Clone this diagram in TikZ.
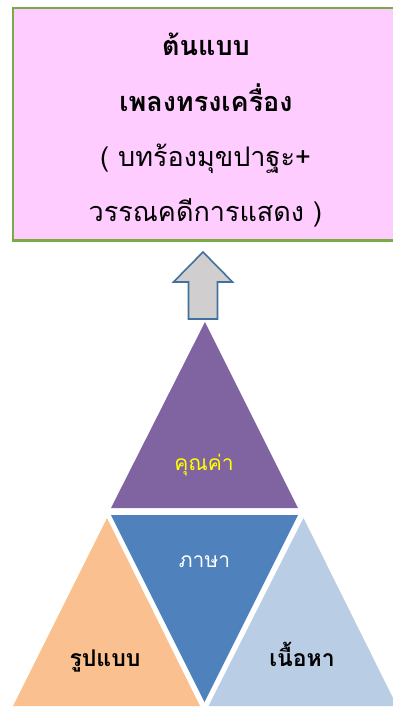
\documentclass[tikz,border=0pt]{standalone}
\usepackage{fontspec}
\newfontfamily\thai[Script=Thai]{Loma}
\definecolor{boxfill}{HTML}{FFCCFF}
\definecolor{boxline}{HTML}{77AC47}
\definecolor{arrfill}{HTML}{D0CECE}
\definecolor{arrline}{HTML}{41719C}
\definecolor{purp}{HTML}{8064A2}
\definecolor{blu}{HTML}{4F81BD}
\definecolor{orng}{HTML}{FAC090}
\definecolor{lblu}{HTML}{B9CDE5}
\begin{document}
\begin{tikzpicture}[x=1pt,y=-1pt,
  boxtxt/.style={font=\thai\fontsize{27}{31}\selectfont, inner sep=0pt, anchor=base},
  boxbold/.style={font=\thai\bfseries\fontsize{27}{31}\selectfont, inner sep=0pt, anchor=base},
  trilabel/.style={font=\thai\fontsize{21}{25}\selectfont, inner sep=0pt, anchor=base},
  tribold/.style={font=\thai\bfseries\fontsize{23}{27}\selectfont, inner sep=0pt, anchor=base}]
\path[use as bounding box] (0,0) rectangle (392,707);
% top box
\node[draw=boxline, fill=boxfill, line width=2.8pt, minimum width=390pt, minimum height=232.5pt, inner sep=0pt, anchor=north west] (box) at (11.5,6.5) {};
\node[boxbold] (l1) at (206,55) {ต้นแบบ};
\node[boxbold] (l2) at (206,111) {เพลงทรงเครื่อง};
\node[boxtxt] (l3) at (205.5,166) {( บทร้องมุขปาฐะ+};
\node[boxtxt] (l4) at (205.5,221) {วรรณคดีการแสดง )};
% arrow
\coordinate (tip) at (203,252);
\draw[draw=arrline, fill=arrfill, line width=1.6pt, line join=miter]
  (tip) -- (232.5,282) -- (217.5,282) -- (217.5,319) -- (188.5,319) -- (188.5,282) -- (173.5,282) -- cycle;
% triangles
\fill[purp] (205,322) -- (298,508) -- (111,508) -- cycle;
\fill[blu] (111,515) -- (298,515) -- (204.5,702) -- cycle;
\fill[orng] (107,518) -- (200,706) -- (13,706) -- cycle;
\fill[lblu] (303.5,518) -- (397,706) -- (208.5,706) -- cycle;
% labels
\node[trilabel, text={rgb,255:red,255;green,255;blue,0}] (kk) at (204,470) {คุณค่า};
\node[trilabel, text=white] (ps) at (204.5,567) {ภาษา};
\node[tribold] (rb) at (105,666) {รูปแบบ};
\node[tribold] (nh) at (302,666) {เนื้อหา};
\end{tikzpicture}
\end{document}
